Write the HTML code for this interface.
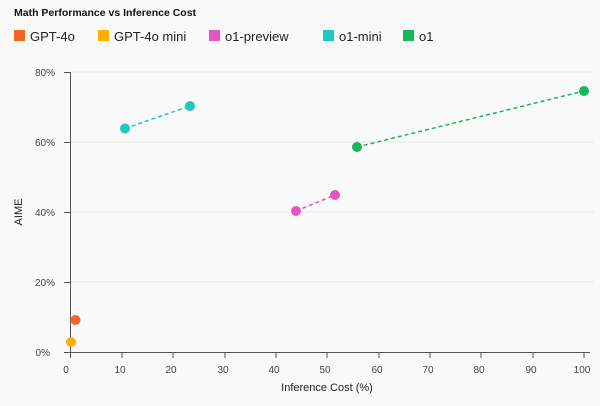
<!DOCTYPE html>
<html><head><style>
body{margin:0;background:#f9f9f9;font-family:"Liberation Sans",sans-serif;}
</style></head><body>
<svg width="600" height="401" xmlns="http://www.w3.org/2000/svg" font-family="Liberation Sans, sans-serif">
<rect width="600" height="401" fill="#f9f9f9"/>
<text x="14" y="16" font-size="10.5" font-weight="bold" fill="#111">Math Performance vs Inference Cost</text>
<g font-size="13" fill="#222">
<rect x="14" y="30" width="11" height="11" fill="#f26522"/><text x="30" y="41">GPT-4o</text>
<rect x="98" y="30" width="11" height="11" fill="#ffb000"/><text x="114" y="41">GPT-4o mini</text>
<rect x="209" y="30" width="11" height="11" fill="#e455c0"/><text x="225" y="41">o1-preview</text>
<rect x="323" y="30" width="11" height="11" fill="#1ec8c0"/><text x="339" y="41">o1-mini</text>
<rect x="403" y="30" width="11" height="11" fill="#14b85a"/><text x="419" y="41">o1</text>
</g>
<g stroke="#e6e6e6" stroke-width="1">
<line x1="70" y1="72" x2="594" y2="72"/><line x1="70" y1="142" x2="594" y2="142"/>
<line x1="70" y1="212" x2="594" y2="212"/><line x1="70" y1="282" x2="594" y2="282"/>
</g>
<g stroke="#555" stroke-width="1">
<line x1="70.5" y1="72" x2="70.5" y2="352"/>
<line x1="64" y1="352.5" x2="590" y2="352.5"/>
<line x1="64" y1="72.5" x2="70" y2="72.5"/><line x1="64" y1="142.5" x2="70" y2="142.5"/>
<line x1="64" y1="212.5" x2="70" y2="212.5"/><line x1="64" y1="282.5" x2="70" y2="282.5"/>
</g>
<g stroke="#555">
<line x1="70.5" y1="352" x2="70.5" y2="358"/><line x1="122" y1="352" x2="122" y2="358"/><line x1="173" y1="352" x2="173" y2="358"/><line x1="225" y1="352" x2="225" y2="358"/><line x1="276" y1="352" x2="276" y2="358"/><line x1="327" y1="352" x2="327" y2="358"/><line x1="379" y1="352" x2="379" y2="358"/><line x1="430" y1="352" x2="430" y2="358"/><line x1="481" y1="352" x2="481" y2="358"/><line x1="533" y1="352" x2="533" y2="358"/><line x1="584" y1="352" x2="584" y2="358"/>
</g>
<g font-size="10" fill="#444" text-anchor="end">
<text x="55" y="76">80%</text><text x="55" y="146">60%</text><text x="55" y="216">40%</text><text x="55" y="286">20%</text><text x="50" y="356">0%</text>
</g>
<g font-size="10" fill="#444" text-anchor="middle">
<text x="66" y="373">0</text><text x="120" y="373">10</text><text x="171" y="373">20</text><text x="223" y="373">30</text><text x="274" y="373">40</text><text x="325" y="373">50</text><text x="377" y="373">60</text><text x="428" y="373">70</text><text x="479" y="373">80</text><text x="531" y="373">90</text><text x="582" y="373">100</text>
</g>
<text x="327" y="391" font-size="11" fill="#222" text-anchor="middle">Inference Cost (%)</text>
<text x="22" y="212" font-size="11" fill="#222" text-anchor="middle" transform="rotate(-90 22 212)">AIME</text>
<g stroke-dasharray="4,3" stroke-width="1.5">
<line x1="125" y1="128.5" x2="190" y2="106" stroke="#1ec8c0"/>
<line x1="296" y1="211" x2="335" y2="195" stroke="#e455c0"/>
<line x1="357" y1="147" x2="584" y2="91" stroke="#14b85a"/>
</g>
<circle cx="75.5" cy="320" r="5" fill="#f26522"/>
<circle cx="71" cy="342" r="5" fill="#ffb000"/>
<circle cx="125" cy="128.5" r="5" fill="#1ec8c0"/><circle cx="190" cy="106" r="5" fill="#1ec8c0"/>
<circle cx="296" cy="211" r="5" fill="#e455c0"/><circle cx="335" cy="195" r="5" fill="#e455c0"/>
<circle cx="357" cy="147" r="5" fill="#14b85a"/><circle cx="584" cy="91" r="5" fill="#14b85a"/>
</svg>
</body></html>
